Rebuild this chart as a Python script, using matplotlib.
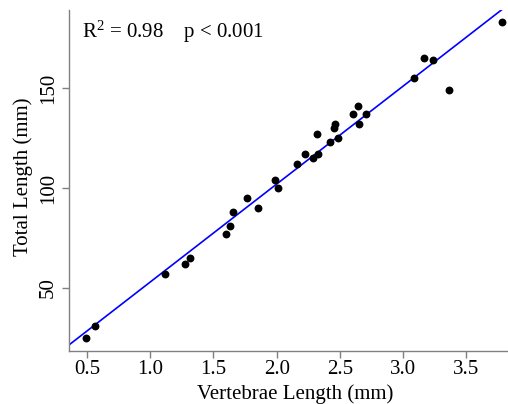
import matplotlib
matplotlib.use("Agg")
import matplotlib.pyplot as plt
import numpy as np

plt.rcParams["font.family"] = ["Liberation Serif", "DejaVu Serif"]
plt.rcParams["mathtext.fontset"] = "custom"
plt.rcParams["mathtext.rm"] = "Liberation Serif"
plt.rcParams["mathtext.it"] = "Liberation Serif:italic"

# vertebrae length (mm) vs total length (mm)
vert_len = [3.783, 3.169, 3.240, 3.089, 3.364, 2.642, 2.602, 2.705, 2.652, 2.464,
            2.454, 2.317, 2.422, 2.486, 2.225, 2.286, 2.325, 2.164, 1.987, 2.009,
            1.766, 1.850, 1.657, 1.629, 1.600, 1.312, 1.273, 1.117, 0.566, 0.490]
total_len = [183.0, 164.8, 164.0, 154.8, 148.8, 141.2, 136.8, 136.8, 132.0, 132.2,
             130.0, 127.0, 123.0, 125.0, 117.0, 115.0, 116.8, 111.8, 104.2, 99.8,
             95.2, 90.0, 88.2, 80.8, 77.0, 65.2, 62.0, 57.0, 31.0, 24.8]
xticks = [0.5, 1.0, 1.5, 2.0, 2.5, 3.0, 3.5]
yticks = [50, 100, 150]
stats_label = "R$^{2}$ = 0.98    p < 0.001"

x = np.array(vert_len)
y = np.array(total_len)
slope, intercept = np.polyfit(x, y, 1)

fig = plt.figure(figsize=(5.08, 4.04), dpi=100)
ax = fig.add_axes([0.136, 0.132, 0.864, 0.843])
xlim = (0.358, 3.83)
ax.set_xlim(xlim)
ax.set_ylim(18.6, 189)

xx = np.array(xlim)
ax.plot(xx, intercept + slope * xx, color="#0000ff", lw=1.2, zorder=2)
ax.scatter(x, y, s=32, color="black", zorder=3, linewidths=0)

for side in ["top", "right"]:
    ax.spines[side].set_visible(False)
for side in ["left", "bottom"]:
    ax.spines[side].set_color("#808080")
    ax.spines[side].set_linewidth(1.0)

ax.set_xticks(xticks)
ax.set_xticklabels([f"{t:.1f}" for t in xticks])
ax.set_yticks(yticks)
ax.set_yticklabels([str(t) for t in yticks], rotation=90, va="center")
ax.tick_params(axis="both", colors="#808080", labelcolor="black", labelsize=15,
               length=5, width=1.0, direction="out")
ax.tick_params(axis="x", pad=2)
ax.tick_params(axis="y", pad=3)

ax.set_xlabel("Vertebrae Length (mm)", fontsize=15)
ax.set_ylabel("Total Length (mm)", fontsize=15)
# the original plot region runs a little past the right edge of the image
ax.xaxis.set_label_coords(0.514, -0.1)
ax.yaxis.set_label_coords(-0.082, 0.51)

ax.text(0.03, 0.975, stats_label, transform=ax.transAxes, fontsize=15,
        ha="left", va="top")

fig.savefig("out.png", dpi=100)
